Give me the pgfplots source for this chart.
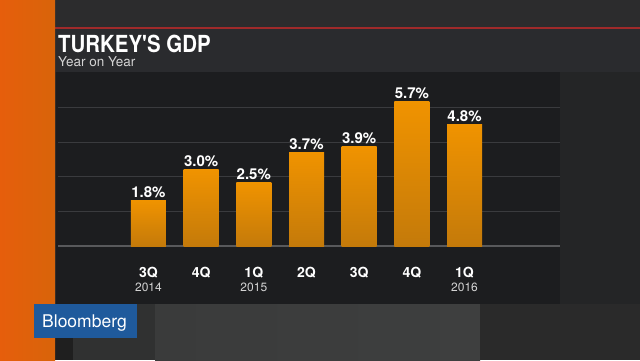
\documentclass[border=0pt]{standalone}
\usepackage{pgfplots}
\pgfplotsset{compat=1.18}
\usepackage{fontspec}
\setmainfont{TeX Gyre Heros}
\definecolor{bgmain}{HTML}{262728}
\definecolor{topstrip}{HTML}{2C2C2D}
\definecolor{redline}{HTML}{A02A2A}
\definecolor{header}{HTML}{2A2B2E}
\definecolor{panel}{HTML}{1C1D1F}
\definecolor{rightarea}{HTML}{242526}
\definecolor{gridc}{HTML}{3A3B3E}
\definecolor{basec}{HTML}{58595B}
\definecolor{bartop}{HTML}{F09300}
\definecolor{barbot}{HTML}{C47A0A}
\definecolor{bbblue}{HTML}{1F5A9C}
\definecolor{yeargray}{HTML}{D4D4D4}
\definecolor{botA}{HTML}{1F1F1F}
\definecolor{botB}{HTML}{303131}
\definecolor{botC}{HTML}{3A3B3B}
\definecolor{botD}{HTML}{444545}
\definecolor{botE}{HTML}{3E3F3F}
\definecolor{botF}{HTML}{2A2A2A}
\definecolor{orL}{HTML}{E65E0C}
\definecolor{orM}{HTML}{F38A18}
\definecolor{orR}{HTML}{D8640A}
\begin{document}
\begin{tikzpicture}[x=1pt,y=1pt]
\useasboundingbox (0,0) rectangle (640,360);
\fill[bgmain] (0,0) rectangle (640,360);
% top strip
\fill[topstrip] (52,333) rectangle (640,360);
% header band
\fill[header] (52,288) rectangle (640,331);
% red line
\fill[redline] (52,330.8) rectangle (640,333.2);
% panel
\fill[panel] (56,56) rectangle (560,288);
% right area
\fill[rightarea] (560,56) rectangle (640,288);
% bottom region
\fill[botA] (55,0) rectangle (73,56);
\fill[botB] (73,0) rectangle (155,56);
\shade[left color=botC, middle color=botD, right color=botE] (155,0) rectangle (480,56);
\fill[botF] (480,0) rectangle (640,56);
% orange stripe
\shade[left color=orL, middle color=orM, right color=orR] (0,0) rectangle (55,360);
% title
\node[anchor=base west, inner sep=0pt, text=white, font=\bfseries\fontsize{23.5}{24}\selectfont] at (58,308) {\scalebox{0.87}[1]{TURKEY\textquotesingle S GDP}};
\node[anchor=base west, inner sep=0pt, text=yeargray, font=\fontsize{13.5}{14}\selectfont] at (58,293.5) {Year on Year};
% Bloomberg logo
\fill[bbblue] (34,22) rectangle (137,56);
\node[anchor=base west, inner sep=0pt, text=white, font=\fontsize{17.5}{18}\selectfont] at (42,33) {Bloomberg};
\begin{axis}[
  at={(58pt,114pt)}, anchor=south west,
  scale only axis, width=502pt, height=172.7pt,
  xmin=-1.718, xmax=7.813, ymin=0, ymax=6.8,
  axis line style={draw=none}, tick style={draw=none},
  ytick={1.36,2.72,4.08,5.44}, yticklabels={},
  ymajorgrids, grid style={color=gridc, line width=1pt},
  extra y ticks={0}, extra y tick labels={},
  extra y tick style={grid style={color=basec, line width=1.6pt}},
  xtick={0,1,2,3,4,5,6},
  xticklabels={
    {3Q\\[-1pt]{\mdseries\color{yeargray}\fontsize{12}{14}\selectfont 2014}},
    {4Q},
    {1Q\\[-1pt]{\mdseries\color{yeargray}\fontsize{12}{14}\selectfont 2015}},
    {2Q},{3Q},{4Q},
    {1Q\\[-1pt]{\mdseries\color{yeargray}\fontsize{12}{14}\selectfont 2016}}},
  xticklabel style={anchor=north, yshift=-17pt, inner sep=0pt, align=center, text=white, font=\bfseries\fontsize{14}{15}\selectfont},
  ybar, bar width=35pt, bar shift=0pt,
  nodes near coords={\pgfmathprintnumber[fixed,precision=1,fixed zerofill,assume math mode=true]{\pgfplotspointmeta}\%},
  every node near coord/.append style={text=white, inner sep=0pt, anchor=south, yshift=2.5pt, font=\bfseries\fontsize{15}{15}\selectfont},
  clip=false,
]
\addplot[draw=none, top color=bartop, bottom color=barbot] coordinates {(0,1.8)};
\addplot[draw=none, top color=bartop, bottom color=barbot] coordinates {(1,3.0)};
\addplot[draw=none, top color=bartop, bottom color=barbot] coordinates {(2,2.5)};
\addplot[draw=none, top color=bartop, bottom color=barbot] coordinates {(3,3.7)};
\addplot[draw=none, top color=bartop, bottom color=barbot] coordinates {(4,3.9)};
\addplot[draw=none, top color=bartop, bottom color=barbot] coordinates {(5,5.7)};
\addplot[draw=none, top color=bartop, bottom color=barbot] coordinates {(6,4.8)};
\end{axis}
\end{tikzpicture}
\end{document}
